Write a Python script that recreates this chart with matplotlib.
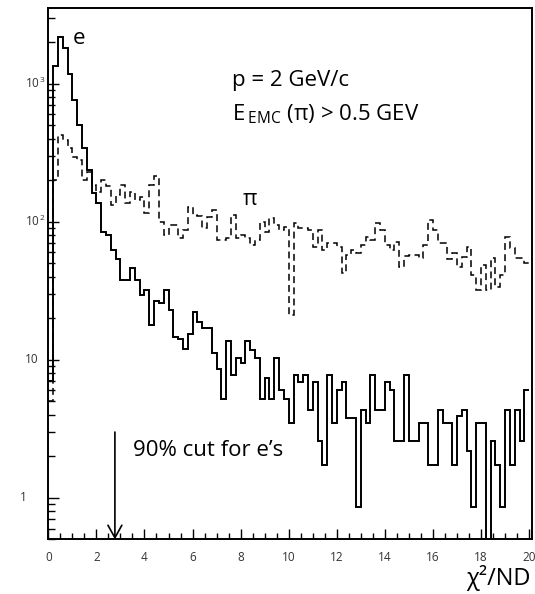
import matplotlib.pyplot as plt
from matplotlib.ticker import MultipleLocator, FixedLocator, NullFormatter, LogLocator
import numpy as np

plt.rcParams['font.family'] = ['Open Sans', 'DejaVu Sans']
plt.rcParams['mathtext.fontset'] = 'custom'
plt.rcParams['mathtext.rm'] = 'Open Sans'
plt.rcParams['mathtext.it'] = 'Open Sans:italic'

# 100 bins of 0.2 in chi2/ND
bin_edges = np.linspace(0, 20, 101)

electron_counts = [
    7.0, 1343, 2198, 1815, 1175, 762, 502, 342, 237, 161,
    137, 84.6, 80.1, 62.4, 53.4, 37.8, 37.8, 45.9, 37.8, 29.4,
    32.3, 17.8, 26.6, 25.8, 32.3, 23.1, 14.6, 14.2, 12.0, 15.5,
    22.2, 18.8, 17.0, 17.0, 11.2, 8.65, 5.19, 13.8, 7.79, 10.4,
    9.5, 13.8, 11.8, 10.4, 5.19, 7.4, 5.19, 10.4, 6.06, 5.19,
    3.46, 7.79, 6.92, 7.79, 4.32, 6.92, 2.6, 1.73, 7.79, 3.46,
    6.06, 6.92, 3.8, 3.8, 0.865, 4.32, 3.46, 7.79, 4.32, 4.32,
    6.92, 6.06, 2.6, 2.6, 7.79, 2.6, 2.6, 3.46, 3.46, 1.73,
    1.73, 4.32, 3.46, 3.46, 1.73, 3.9, 4.32, 2.2, 0.865, 3.46,
    3.46, 0, 2.6, 1.73, 0.865, 4.32, 1.73, 4.32, 2.6, 6.06,
]

pion_counts = [
    5.0, 200, 425, 391, 342, 294, 280, 200, 229, 185,
    164, 200, 181, 132, 156, 185, 137, 164, 144, 151,
    116, 185, 215, 99.5, 80, 94.7, 94.7, 76.2, 87, 128,
    112, 110, 90, 108, 121, 73.7, 73.7, 76.2, 112, 76.2,
    80, 76.2, 67.8, 73.7, 99.5, 84, 106, 94.7, 87, 91,
    21.1, 98, 90, 90, 87, 65.6, 87, 62.3, 70, 70,
    65.6, 42.5, 57.4, 62.3, 59.3, 67.8, 77.5, 73.7, 98, 87,
    67.8, 62.3, 71, 47, 56.4, 57.4, 57.4, 54.6, 67.8, 103,
    87, 70, 70, 53.7, 59.3, 47, 55.5, 65.6, 41.1, 32,
    48.5, 32, 54.6, 33.6, 41.1, 77.5, 64.5, 54.6, 54.6, 50.2,
]

y_ticks = [1, 10, 100, 1000]
y_tick_labels = ['1', '10', '10$^{\\,2}$', '10$^{\\,3}$']
y_label_left = [20, 25, 25, 25]   # pixel x of the left edge of each label
cut_value = 2.77

fig = plt.figure(figsize=(5.35, 5.94), dpi=100)
ax = fig.add_axes([0.0903, 0.0918, 0.9032, 0.8948])

ax.stairs(electron_counts, bin_edges, color='black', lw=1.4, baseline=None)
ax.stairs(pion_counts, bin_edges, color='black', lw=1.1,
          linestyle=(0, (4.5, 2.8)), baseline=None)

ax.set_yscale('log')
ax.set_xlim(0, 20.1)
ax.set_ylim(0.5, 3540)

ax.xaxis.set_major_locator(MultipleLocator(2))
ax.xaxis.set_minor_locator(MultipleLocator(0.5))
ax.yaxis.set_major_locator(FixedLocator(y_ticks))
ax.yaxis.set_major_formatter(NullFormatter())
ax.yaxis.set_minor_locator(LogLocator(base=10, subs=np.arange(2, 10)))
ax.yaxis.set_minor_formatter(NullFormatter())

ax.tick_params(which='both', direction='in', top=False, right=False,
               colors='black', labelcolor='#333333', labelsize=8.5, width=1.0)
ax.tick_params(axis='x', which='major', length=7, pad=8)
ax.tick_params(axis='x', which='minor', length=4)
ax.tick_params(axis='y', which='major', length=8)
ax.tick_params(axis='y', which='minor', length=5)
for s in ax.spines.values():
    s.set_linewidth(1.4)

# y tick labels placed by hand, as in the original
ytrans = ax.get_yaxis_transform()
ax_w = 0.9032 * 535
for val, lab, px in zip(y_ticks, y_tick_labels, y_label_left):
    ax.text((px - 48.3) / ax_w, val, lab, transform=ytrans, fontsize=8.5,
            color='#333333', ha='left', va='center', clip_on=False)

# labels inside the plot
ax.text(1.03, 2110, 'e', fontsize=16, ha='left', va='center')
ax.text(8.1, 144, 'π', fontsize=16, ha='left', va='center')
ax.text(7.64, 1064, 'p = 2 GeV/c', fontsize=16, ha='left', va='center')
ax.text(7.64, 603, r'E$\,_{\mathrm{EMC}}$ (π) > 0.5 GEV', fontsize=16,
        ha='left', va='center')
ax.text(3.52, 2.22, "90% cut for e’s", fontsize=16, ha='left', va='center')

ax.annotate('', xy=(cut_value, 0.5), xytext=(cut_value, 3.0),
            arrowprops=dict(arrowstyle='->,head_length=0.9,head_width=0.5',
                            color='black', lw=1.2, shrinkA=0, shrinkB=0))

fig.text(531 / 535, 1 - 578 / 594, 'χ²/ND', fontsize=17, ha='right', va='center')

fig.savefig('out.png', dpi=100)
plt.close(fig)
